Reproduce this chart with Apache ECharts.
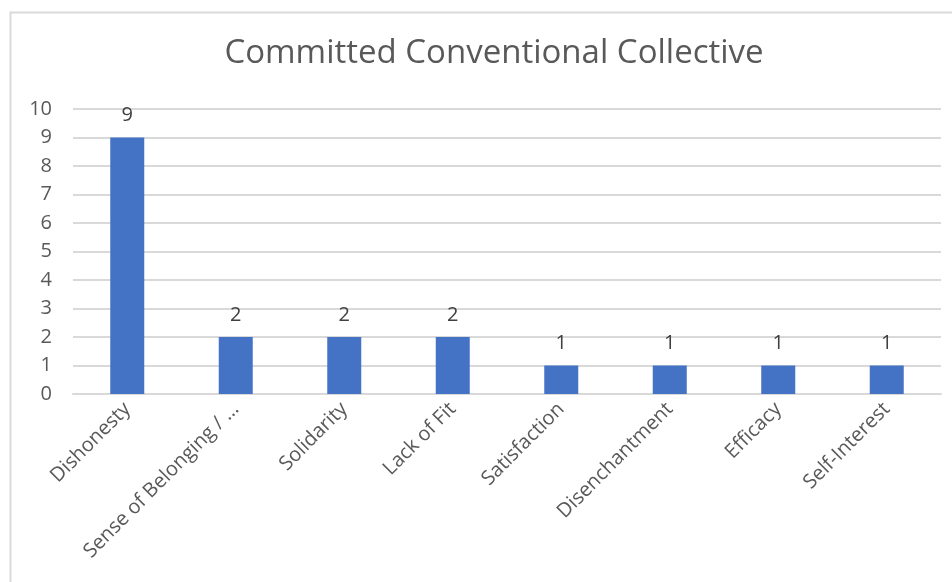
<!DOCTYPE html>
<html><head><meta charset="utf-8">
<script src="https://cdn.jsdelivr.net/npm/echarts@6/dist/echarts.min.js"></script>
<style>html,body{margin:0;padding:0;background:#fff}#c{width:952px;height:582px}</style>
</head><body><div id="c"></div>
<script>
const categories = ["Dishonesty","Sense of Belonging / …","Solidarity","Lack of Fit","Satisfaction","Disenchantment","Efficacy","Self-Interest"];
const values = [9,2,2,2,1,1,1,1];
const chartTitle = "Committed Conventional Collective";
const chart = echarts.init(document.getElementById('c'));
chart.setOption({
  animation:false,
  textStyle:{fontFamily:"'Open Sans', 'Noto Sans', sans-serif"},
  graphic:[{type:'rect',left:8,top:10,shape:{width:960,height:600},style:{fill:'none',stroke:'#d9d9d9',lineWidth:2},silent:true}],
  title:{text:chartTitle,left:489,textAlign:'center',top:32,textStyle:{fontSize:33,fontWeight:'normal',color:'#595959',fontFamily:"'Open Sans', 'Noto Sans', sans-serif"}},
  grid:{left:73,right:11,top:109,bottom:188,containLabel:false},
  xAxis:{type:'category',data:categories,
    axisLine:{show:true,lineStyle:{color:'#d9d9d9',width:2}},axisTick:{show:false},
    axisLabel:{rotate:45,color:'#595959',fontSize:20,margin:12,interval:0}},
  yAxis:{type:'value',min:0,max:10,interval:1,
    axisLine:{show:false},axisTick:{show:false},
    splitLine:{lineStyle:{color:'#d9d9d9',width:2}},
    axisLabel:{color:'#595959',fontSize:20,margin:21}},
  series:[{type:'bar',data:values,barWidth:34,itemStyle:{color:'#4472C4'},
    label:{show:true,position:'top',distance:12,color:'#404040',fontSize:20}}]
});
</script></body></html>
